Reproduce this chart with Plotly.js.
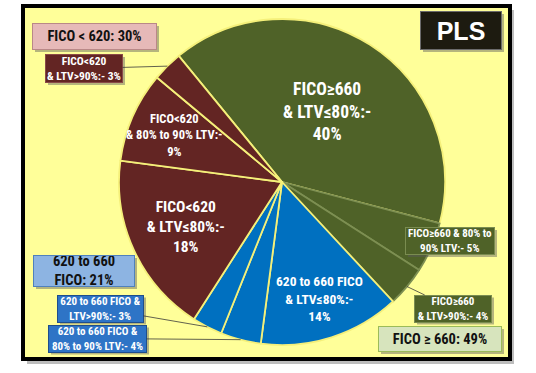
<!DOCTYPE html>
<html><head><meta charset="utf-8">
<script src="https://cdn.plot.ly/plotly-3.0.1.min.js"></script>
<style>html,body{margin:0;padding:0;background:#fff}</style></head>
<body>
<div id="chart" style="width:536px;height:373px"></div>
<script>
// ---- data ----
const categories = [
  "FICO≥660 & LTV≤80%", "FICO≥660 & 80% to 90% LTV", "FICO≥660 & LTV>90%",
  "620 to 660 FICO & LTV≤80%", "620 to 660 FICO & 80% to 90% LTV", "620 to 660 FICO & LTV>90%",
  "FICO<620 & LTV≤80%", "FICO<620 & 80% to 90% LTV", "FICO<620 & LTV>90%"
];
const shares = [40, 5, 4, 14, 4, 3, 18, 9, 3];
const sliceLabels = [
  "FICO≥660<br>& LTV≤80%:-<br>40%",
  "FICO≥660 & 80% to<br>90% LTV:- 5%",
  "FICO≥660<br>& LTV>90%:- 4%",
  "620 to 660 FICO<br>& LTV≤80%:-<br>14%",
  "620 to 660 FICO &<br>80% to 90% LTV:- 4%",
  "620 to 660 FICO &<br>LTV>90%:- 3%",
  "FICO<620<br>& LTV≤80%:-<br>18%",
  "FICO<620<br>& 80% to 90% LTV:-<br>9%",
  "FICO<620<br>& LTV>90%:- 3%"
];
const groupLabels = ["FICO < 620: 30%", "620 to 660<br>FICO: 21%", "FICO ≥ 660: 49%"];
const chartTitle = "PLS";

// ---- styles ----
const W = 536, H = 373;
const cx = 282, cy = 182, R = 163;
const rot = -39.3;
const green = "#4F6228", blue = "#0070C0", maroon = "#632523";
const sliceColors = [green, green, green, blue, blue, blue, maroon, maroon, maroon];
const sepYellow = "#F5F07A", sepGreen = "#7D8F52";
const sliceLineColors = [sepYellow, sepGreen, sepGreen, sepYellow, sepYellow, sepYellow, sepYellow, sepYellow, sepYellow];
const pieTextIdx = [0, 6];
const NARROW = "Roboto Condensed, Liberation Sans Narrow, Arial Narrow, sans-serif";
const BOLD = "Liberation Sans, Arial, sans-serif";

const textpos = shares.map((v, i) => pieTextIdx.includes(i) ? "inside" : "none");
const textsizes = [17.5, 10, 10, 14, 10, 10, 15.5, 12, 10];

const trace = {
  type: "pie",
  labels: categories,
  values: shares,
  sort: false,
  direction: "clockwise",
  rotation: rot,
  text: sliceLabels.map(s => "<b>" + s + "</b>"),
  textinfo: "text",
  textposition: textpos,
  insidetextorientation: "horizontal",
  insidetextfont: {family: NARROW, color: "#ffffff", size: textsizes},
  marker: {colors: sliceColors, line: {color: sliceLineColors, width: 1.8}},
  hoverinfo: "label+percent",
  domain: {x: [(cx - R) / W, (cx + R) / W], y: [(H - cy - R) / H, (H - cy + R) / H]}
};

// slice geometry from the data
const total = shares.reduce((a, b) => a + b, 0);
let acc = 0;
const mids = shares.map(v => { const m = rot + (acc + v / 2) / total * 360; acc += v; return m; });
function edge(i, f) {
  const a = mids[i] * Math.PI / 180;
  return [cx + R * f * Math.sin(a), cy - R * f * Math.cos(a)];
}
const px = x => x / W, py = y => 1 - y / H;

const shadows = [];
function addShadow(bx, by, w, h) {
  shadows.push({type: "rect", xref: "paper", yref: "paper", layer: "above",
    x0: px(bx - w / 2 + 2), x1: px(bx + w / 2 + 3), y0: py(by - h / 2 + 2), y1: py(by + h / 2 + 3),
    fillcolor: "rgba(90,90,90,0.45)", line: {width: 0}});
}
function box(text, bx, by, w, h, bg, border, color, size, family) {
  addShadow(bx, by, w, h);
  return {
    xref: "paper", yref: "paper", x: px(bx), y: py(by), xanchor: "center", yanchor: "middle",
    text: "<b>" + text + "</b>", showarrow: false, width: w, height: h,
    bgcolor: bg, bordercolor: border, borderwidth: 1, borderpad: 0,
    font: {family: family, size: size, color: color}, align: "center"
  };
}
function leader(i, text, bx, by, w, h, bg, border, size) {
  const p = edge(i, 1.0);
  addShadow(bx, by, w, h);
  return {
    xref: "paper", yref: "paper", x: px(p[0]), y: py(p[1]),
    ax: bx - p[0], ay: by - p[1], axref: "pixel", ayref: "pixel",
    text: "<b>" + text + "</b>", showarrow: true, arrowhead: 0, arrowwidth: 0.8, arrowcolor: "#3a3a3a",
    width: w, height: h, bgcolor: bg, bordercolor: border, borderwidth: 1, borderpad: 0,
    font: {family: NARROW, size: size, color: "#ffffff"}, align: "center"
  };
}
function inside(i, f, size) {
  const p = edge(i, f);
  return {
    xref: "paper", yref: "paper", x: px(p[0]), y: py(p[1]), xanchor: "center", yanchor: "middle",
    text: "<b>" + sliceLabels[i] + "</b>", showarrow: false,
    font: {family: NARROW, size: size, color: "#ffffff"}, align: "center"
  };
}

const annotations = [
  box(groupLabels[0], 94.5, 36.5, 123, 25, "#E6B9B8", "#B98887", "#111", 14.5, NARROW),
  box(groupLabels[1], 84, 271, 100, 30, "#8DB4E2", "#4F81BD", "#111", 14.5, NARROW),
  box(groupLabels[2], 440, 339, 122, 24, "#D7E4BD", "#9BBB59", "#111", 14.5, NARROW),
  box(chartTitle, 461, 30.5, 80, 37, "#1D1B10", "#6b6b6b", "#ffffff", 25, BOLD),
  leader(8, sliceLabels[8], 84, 68.5, 76, 27, maroon, "#8a4a48", 11.5),
  box(sliceLabels[1], 450, 241, 88, 26, green, "#7a8c50", "#ffffff", 11, NARROW),
  leader(2, sliceLabels[2], 453, 308.5, 76, 26, green, "#7a8c50", 11),
  leader(5, sliceLabels[5], 100.5, 308.5, 85, 26, "#2E74C6", "#1F4E8C", 11),
  leader(4, sliceLabels[4], 97.5, 338.5, 97, 26, "#2E74C6", "#1F4E8C", 11),
  inside(3, 0.75, 13.5),
  inside(7, 0.72, 12.5)
];

const shapes = [
  {type: "rect", xref: "paper", yref: "paper", layer: "below",
   x0: px(27), x1: px(514), y0: py(10), y1: py(364), fillcolor: "#BDBDBD", line: {width: 0}},
  {type: "rect", xref: "paper", yref: "paper", layer: "below",
   x0: px(23), x1: px(510), y0: py(6), y1: py(359), fillcolor: "#FFFF99", line: {color: "#000000", width: 4}}
].concat(shadows);

const layout = {
  width: W, height: H, margin: {l: 0, r: 0, t: 0, b: 0},
  paper_bgcolor: "#ffffff", plot_bgcolor: "#ffffff",
  showlegend: false, annotations: annotations, shapes: shapes
};
Plotly.newPlot("chart", [trace], layout, {displayModeBar: false, staticPlot: true});
</script>
</body></html>
